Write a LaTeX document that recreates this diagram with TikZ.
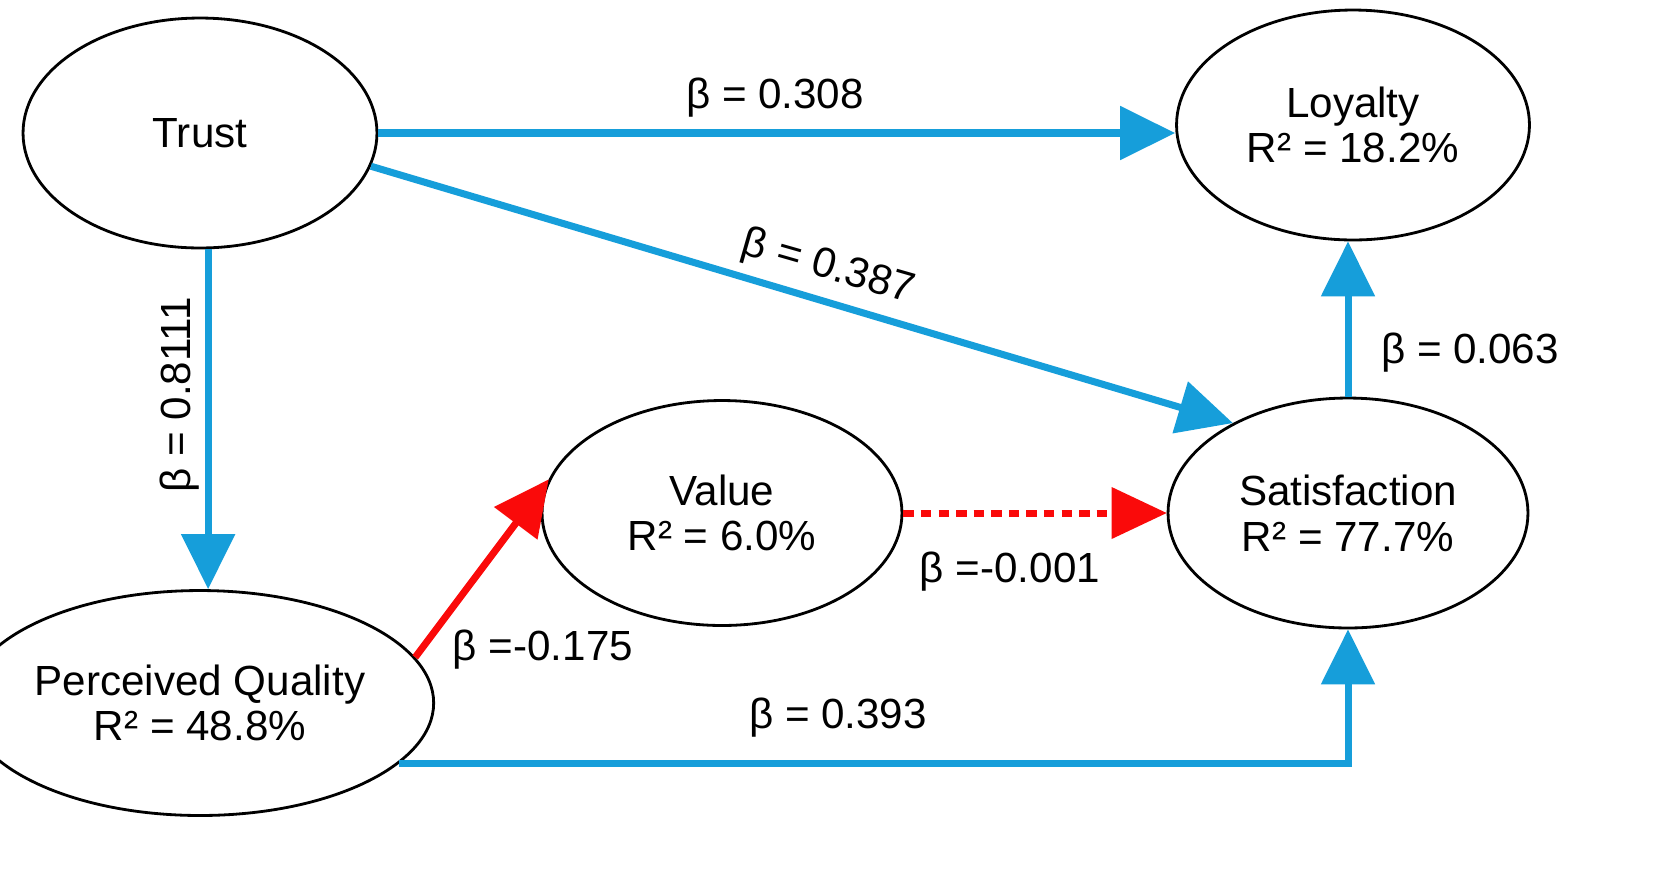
\documentclass[tikz,border=0pt]{standalone}
\usepackage{fontspec}
\setmainfont{Liberation Sans}
\usetikzlibrary{shapes.geometric,arrows.meta}
\definecolor{bl}{RGB}{22,158,218}
\definecolor{rd}{RGB}{250,10,10}
\begin{document}
\begin{tikzpicture}[x=0.02cm,y=-0.02cm,
 ell/.style={ellipse,draw=black,line width=1.6pt,inner sep=0pt,align=center,font=\fontsize{24}{26}\selectfont},
 lab/.style={font=\fontsize{24}{26}\selectfont},
 con/.style={line width=4pt,-{Triangle[width=1.05cm,length=1.1cm]}},
 blue/.style={con,draw=bl},
 red/.style={con,draw=rd}]
\fill[white] (0,0) rectangle (1663,894);
\useasboundingbox (0,0) rectangle (1663,894);
\node[ell,minimum width=7.08cm,minimum height=4.6cm] (trust) at (200,133) {Trust};
\node[ell,minimum width=7.06cm,minimum height=4.6cm] (loy) at (1353,125) {Loyalty\\R² = 18.2\%};
\node[ell,minimum width=7.2cm,minimum height=4.6cm] (sat) at (1348,513) {Satisfaction\\R² = 77.7\%};
\node[ell,minimum width=7.2cm,minimum height=4.5cm] (val) at (722,513) {Value\\R² = 6.0\%};
\node[ell,minimum width=7.68cm,minimum height=4.5cm] (pq) at (200,703) {Perceived Quality\\R² = 48.8\%};
\draw[blue] (trust.east) -- (trust.east -| loy.west);
\draw[blue] (trust.-11) -- (sat.142);
\draw[blue] (trust.-86) -- (trust.-86 |- pq.north);
\draw[red] (pq.12) -- (val.169);
\draw[rd,line width=4pt,dash pattern=on 6pt off 4pt] (val.east) -- ([xshift=-1.05cm]sat.west);
\fill[rd] (sat.west) -- ++(-1.1cm,0.52cm) -- ++(0,-1.04cm) -- cycle;
\draw[blue] (pq.-17) -- (pq.-17 -| sat.south) -- (sat.south);
\draw[blue] (sat.north) -- (sat.north |- loy.south);
\node[lab] (l1) at (775,98) {β = 0.308};
\node[lab,rotate=-16] (l2) at (828,268) {β = 0.387};
\node[lab,rotate=90] (l3) at (180,395) {β = 0.8111};
\node[lab] (l4) at (1470,353) {β = 0.063};
\node[lab] (l5) at (543,650) {β =-0.175};
\node[lab] (l6) at (1010,572) {β =-0.001};
\node[lab] (l7) at (838,718) {β = 0.393};
\end{tikzpicture}
\end{document}
